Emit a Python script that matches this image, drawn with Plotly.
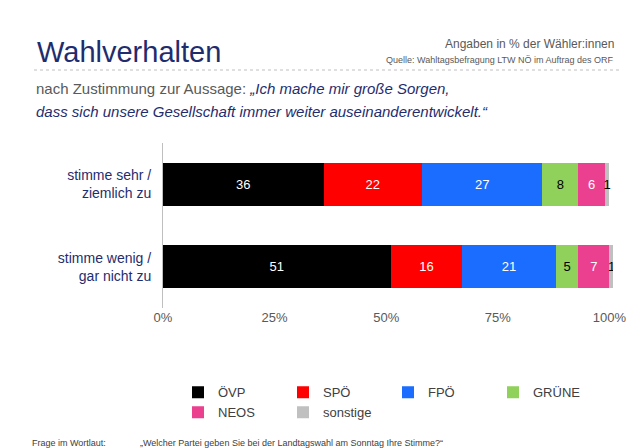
import plotly.graph_objects as go

categories = ["stimme sehr /<br>ziemlich zu", "stimme wenig /<br>gar nicht zu"]
parties = ["ÖVP", "SPÖ", "FPÖ", "GRÜNE", "NEOS", "sonstige"]
colors = ["#000000", "#ff0000", "#1a6dff", "#8fd15b", "#eb3f8f", "#c0c0c0"]
values = {
    "ÖVP": [36, 51],
    "SPÖ": [22, 16],
    "FPÖ": [27, 21],
    "GRÜNE": [8, 5],
    "NEOS": [6, 7],
    "sonstige": [1, 1],
}
tick_vals = [0, 25, 50, 75, 100]
tick_text = ["0%", "25%", "50%", "75%", "100%"]

fig = go.Figure()
for p, c in zip(parties, colors):
    tc = "#000000" if p in ("GRÜNE", "sonstige") else "#ffffff"
    fig.add_trace(go.Bar(
        y=categories, x=values[p], name=p, orientation="h",
        marker=dict(color=c, line=dict(width=0)),
        text=[str(v) for v in values[p]], textposition="inside",
        insidetextanchor="middle", textangle=0,
        textfont=dict(color=tc, size=13, family="Liberation Sans"),
        constraintext="none",
    ))

L, R, T, B = 155, 35, 135, 148
fig.update_layout(
    barmode="stack", bargap=0.48,
    width=640, height=448,
    margin=dict(l=L, r=R, t=T, b=B, autoexpand=False),
    paper_bgcolor="white", plot_bgcolor="white",
    font=dict(family="Liberation Sans", color="#595959"),
    xaxis=dict(range=[0, 100.8], tickvals=tick_vals, ticktext=tick_text,
               showgrid=False, zeroline=False, showline=False, automargin=False,
               tickfont=dict(size=13, color="#595959")),
    yaxis=dict(autorange="reversed", showline=True, linecolor="#bfbfbf", automargin=False,
               tickfont=dict(size=14, color="#1f2d6e"), ticks="", ticklabelstandoff=8),
    legend=dict(orientation="h", x=0.5, xanchor="center", y=-0.42, yanchor="top",
                font=dict(size=13, color="#404040"), entrywidth=60, entrywidthmode="pixels",
                traceorder="normal"),
    showlegend=True,
)

ph = 448 - T - B
def py(pix):
    return (448 - B - pix) / ph
pw = 640 - L - R
def px(pix):
    return (pix - L) / pw

fig.add_annotation(text="Wahlverhalten", xref="paper", yref="paper", x=px(27), y=py(44),
                   xanchor="left", yanchor="middle", showarrow=False,
                   font=dict(size=29, color="#1f2d6e"))
fig.add_annotation(text="Angaben in % der Wähler:innen", xref="paper", yref="paper",
                   x=px(608), y=py(36), xanchor="right", yanchor="middle", showarrow=False,
                   font=dict(size=12, color="#595959"))
fig.add_annotation(text="Quelle: Wahltagsbefragung LTW NÖ im Auftrag des ORF", xref="paper",
                   yref="paper", x=px(608), y=py(52), xanchor="right", yanchor="middle",
                   showarrow=False, font=dict(size=9, color="#595959"))
fig.add_annotation(text="nach Zustimmung zur Aussage: <i><span style='color:#1f2d6e'>„Ich mache mir große Sorgen,</span></i>",
                   xref="paper", yref="paper", x=px(26), y=py(80), xanchor="left",
                   yanchor="middle", showarrow=False, font=dict(size=15, color="#595959"))
fig.add_annotation(text="<i>dass sich unsere Gesellschaft immer weiter auseinanderentwickelt.“</i>",
                   xref="paper", yref="paper", x=px(26), y=py(104), xanchor="left",
                   yanchor="middle", showarrow=False, font=dict(size=15, color="#1f2d6e"))
fig.add_annotation(text="Frage im Wortlaut:", xref="paper", yref="paper", x=px(22), y=py(435),
                   xanchor="left", yanchor="middle", showarrow=False,
                   font=dict(size=9, color="#404040"))
fig.add_annotation(text="„Welcher Partei geben Sie bei der Landtagswahl am Sonntag Ihre Stimme?“",
                   xref="paper", yref="paper", x=px(130), y=py(435), xanchor="left",
                   yanchor="middle", showarrow=False, font=dict(size=9, color="#404040"))
fig.add_shape(type="line", xref="paper", yref="paper", x0=px(26), x1=px(612),
              y0=py(62), y1=py(62), line=dict(color="#bfbfbf", width=1, dash="dot"))

fig.write_html("out.html")
